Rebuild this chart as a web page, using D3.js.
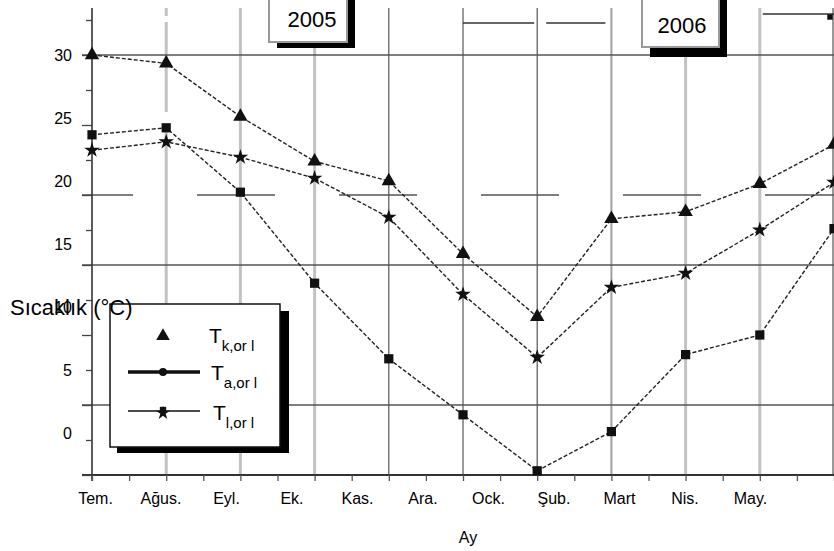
<!DOCTYPE html>
<html><head><meta charset="utf-8">
<script src="https://cdn.jsdelivr.net/npm/d3@7"></script>
<style>body{margin:0;background:#fff}svg{display:block;font-family:Arial,"Liberation Sans",sans-serif}</style>
</head><body><svg id="c" width="834" height="551"></svg>
<script>
const months = ["Tem.","Ağus.","Eyl.","Ek.","Kas.","Ara.","Ock.","Şub.","Mart","Nis.","May."];
const tK = [30.0,29.4,25.6,22.4,21.0,15.8,11.3,18.3,18.8,20.8,23.6];
const tA = [24.3,24.8,20.2,13.7,8.3,4.3,0.3,3.1,8.6,10.0,17.6];
const tL = [23.2,23.8,22.7,21.2,18.4,12.9,8.4,13.4,14.4,17.5,20.9];
const yTickLabels = [0,5,10,15,20,25,30];
const years = ["2005","2006"];
const yTitle = "Sıcaklık (°C)";
const xTitle = "Ay";

const svg = d3.select("#c");
const x = d3.scaleLinear([0,10],[92,834]);
const y = d3.scaleLinear([0,30],[475,55]);
const xLab = d3.scalePoint(months,[95,750]);
const yLab = d3.scaleLinear([0,30],[433,55]);

// vertical gridlines
const vStyle = {1:"g",2:"g",3:"g",4:"d",5:"d",6:"d",7:"m",8:"g",9:"g",10:"d"};
const vg = svg.append("g");
d3.range(1,11).forEach(i=>{
  const s = vStyle[i];
  const xp = Math.min(x(i), 833);
  vg.append("line").attr("x1",xp).attr("x2",xp).attr("y1",8).attr("y2",y(0))
    .attr("stroke", s==="g"?"#c2c2c2":s==="m"?"#a0a0a0":"#555")
    .attr("stroke-width", s==="g"?3:s==="m"?2:1.2)
    .attr("stroke-dasharray", i===1?"8,6,90,18,180,16,200":null);
});
// horizontal gridlines
const hg = svg.append("g");
[30,15,5].forEach(v=>{
  hg.append("line").attr("x1",82).attr("x2",834).attr("y1",y(v)).attr("y2",y(v))
    .attr("stroke","#555").attr("stroke-width",1.5);
});
hg.append("line").attr("x1",82).attr("x2",834).attr("y1",y(20)).attr("y2",y(20))
  .attr("stroke","#555").attr("stroke-width",1.5).attr("stroke-dasharray","78,64").attr("stroke-dashoffset",27);

// axes
const ax = svg.append("g").attr("stroke","#333");
ax.append("line").attr("x1",x(0)).attr("x2",x(0)).attr("y1",8).attr("y2",y(0)+6).attr("stroke-width",1.6);
ax.append("line").attr("x1",82).attr("x2",834).attr("y1",y(0)).attr("y2",y(0)).attr("stroke-width",1.8);

const yAxis = svg.append("g").attr("transform",`translate(${x(0)},0)`)
  .call(d3.axisLeft(y).tickValues(d3.range(0,33,2.5)).tickSize(6).tickFormat(""));
yAxis.select(".domain").remove();
yAxis.selectAll("line").attr("stroke","#444").attr("stroke-width",1.3)
  .attr("x2",d=>d%5===0?-10:-6);

const xAxis = svg.append("g").attr("transform",`translate(0,${y(0)})`)
  .call(d3.axisBottom(x).tickValues(d3.range(0,10.01,0.5)).tickSize(6).tickFormat(""));
xAxis.select(".domain").remove();
xAxis.selectAll("line").attr("stroke","#555").attr("stroke-width",1.3);

// tick labels
const yl = svg.append("g").attr("transform","translate(75,0)")
  .call(d3.axisLeft(yLab).tickValues(yTickLabels).tickSize(0).tickPadding(3));
yl.select(".domain").remove();
yl.selectAll("text").attr("font-size",16).attr("font-family","Arial, Liberation Sans, sans-serif").attr("fill","#000");

const xl = svg.append("g").attr("transform","translate(0,504)")
  .call(d3.axisBottom(xLab).tickSize(0));
xl.select(".domain").remove();
xl.selectAll("text").attr("y",0).attr("dy",0).attr("font-size",16)
  .attr("font-family","Arial, Liberation Sans, sans-serif").attr("fill","#000");

// series
const line = d3.line().x((d,i)=>x(i)).y(d=>y(d));
const series = [
  {vals:tK, sym:d3.symbolTriangle, size:90},
  {vals:tA, sym:d3.symbolSquare, size:85},
  {vals:tL, sym:d3.symbolStar, size:75}
];
series.forEach(s=>{
  svg.append("path").datum(s.vals).attr("d",line).attr("fill","none")
    .attr("stroke","#222").attr("stroke-width",1.4).attr("stroke-dasharray","4,2");
  svg.append("g").selectAll("path").data(s.vals).join("path")
    .attr("transform",(d,i)=>`translate(${x(i)},${y(d)})`)
    .attr("d",d3.symbol(s.sym,s.size)).attr("fill","#111");
});

// year boxes
function yearBox(cx, left, right, bottom, shadowH, label, base){
  const g = svg.append("g");
  g.append("rect").attr("x",left+8).attr("y",-5).attr("width",right-left).attr("height",bottom+shadowH+5).attr("fill","#000");
  g.append("rect").attr("x",left).attr("y",-5).attr("width",right-left).attr("height",bottom+5).attr("fill","#fff")
    .attr("stroke","#999").attr("stroke-width",2);
  g.append("text").attr("x",cx).attr("y",base).attr("text-anchor","middle").attr("font-size",22).text(label);
}
yearBox(312, 269, 347, 42, 6, years[0], 27);
yearBox(682, 642, 719, 47, 10, years[1], 33);

// top range arrows
const ta = svg.append("g").attr("stroke","#333").attr("stroke-width",1.5);
ta.append("line").attr("x1",x(5)).attr("x2",x(6)-3).attr("y1",23).attr("y2",23);
ta.append("line").attr("x1",x(6)+9).attr("x2",x(7)-6).attr("y1",23).attr("y2",23);
ta.append("line").attr("x1",x(9)+3).attr("x2",834).attr("y1",14).attr("y2",14);
svg.append("path").attr("d",d3.symbol(d3.symbolSquare,30)).attr("transform",`translate(${x(10)-4},17)`).attr("fill","#111");

// legend
const lg = svg.append("g");
lg.append("rect").attr("x",117).attr("y",311).attr("width",172).attr("height",142).attr("fill","#000");
lg.append("rect").attr("x",110).attr("y",304).attr("width",170).attr("height",143).attr("fill","#fff")
  .attr("stroke","#111").attr("stroke-width",1.5);
lg.append("path").attr("d",d3.symbol(d3.symbolTriangle,80)).attr("transform","translate(163,336)").attr("fill","#111");
lg.append("line").attr("x1",128).attr("x2",200).attr("y1",372).attr("y2",372).attr("stroke","#111").attr("stroke-width",3.5);
lg.append("path").attr("d",d3.symbol(d3.symbolCircle,50)).attr("transform","translate(163,372)").attr("fill","#111");
lg.append("line").attr("x1",128).attr("x2",200).attr("y1",411).attr("y2",411).attr("stroke","#111").attr("stroke-width",1.5);
lg.append("path").attr("d",d3.symbol(d3.symbolSquare,40)).attr("transform","translate(163,410)").attr("fill","#111");
lg.append("path").attr("d",d3.symbol(d3.symbolStar,60)).attr("transform","translate(163,413)").attr("fill","#111");
const legItems = [["k,or l",209,343],["a,or l",211,380],["l,or l",213,420]];
legItems.forEach(([sub,lx,ly])=>{
  const t = lg.append("text").attr("x",lx).attr("y",ly).attr("font-size",21).text("T");
  t.append("tspan").attr("font-size",15).attr("dy",8).text(sub);
});

// titles
svg.append("text").attr("x",10).attr("y",315).attr("font-size",22).text(yTitle);
svg.append("text").attr("x",468).attr("y",543).attr("text-anchor","middle").attr("font-size",16).text(xTitle);
</script></body></html>
